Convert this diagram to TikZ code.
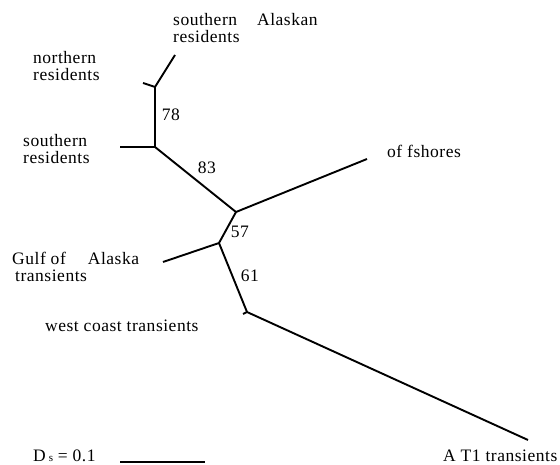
\documentclass[tikz,border=0pt]{standalone}
\usepackage{fontspec}
\setmainfont{Liberation Serif}[LetterSpace=3]
\begin{document}
\tikzset{
  branch/.style={line width=1.9pt, line cap=butt, line join=miter},
  lbl/.style={font=\fontsize{17.5}{17.5}\selectfont, inner sep=0pt, align=left, anchor=base west},
  boot/.style={font=\fontsize{17.5}{17.5}\selectfont, inner sep=0pt, anchor=center}
}
\begin{tikzpicture}[x=1pt,y=-1pt]
\useasboundingbox (0,0) rectangle (560,465);
% internal nodes and tips
\coordinate (A) at (155,87);
\coordinate (SA) at (175,55);
\coordinate (NR) at (143,83);
\coordinate (B) at (155,147);
\coordinate (SR) at (120,147);
\coordinate (C) at (236,212);
\coordinate (OF) at (367,159);
\coordinate (D) at (219,243);
\coordinate (GA) at (163,262);
\coordinate (E) at (247,312);
\coordinate (WC) at (243,314);
\coordinate (AT) at (528,440);
\coordinate (S1) at (120,462);
\coordinate (S2) at (205,462);
% branches
\draw[branch] (A) -- (SA);
\draw[branch] (A) -- (NR);
\draw[branch] (A) -- (B);
\draw[branch] (B) -- (SR);
\draw[branch] (B) -- (C);
\draw[branch] (C) -- (OF);
\draw[branch] (C) -- (D);
\draw[branch] (D) -- (GA);
\draw[branch] (D) -- (E);
\draw[branch] (E) -- (WC);
\draw[branch] (E) -- (AT);
\draw[branch] (S1) -- (S2);
% labels (anchor = baseline of last line)
\node[lbl] (lSA) at (173,43) {southern\hspace{20pt}Alaskan\\residents};
\node[lbl] (lNR) at (33,81) {northern\\residents};
\node[lbl] (lSR) at (23,164) {southern\\residents};
\node[lbl] (lOF) at (387,158) {of fshores};
\node[lbl] (lGA) at (12,282) {Gulf of\hspace{22pt}Alaska\\\hspace{3pt}transients};
\node[lbl] (lWC) at (45,331) {west coast transients};
\node[lbl] (lAT) at (443,461) {A T1 transients};
\node[lbl] (lDS) at (33,461) {D\,{\fontsize{11}{12}\selectfont s} = 0.1};
% bootstrap values
\node[boot] (b78) at (171,115) {78};
\node[boot] (b83) at (207,168) {83};
\node[boot] (b57) at (240,232) {57};
\node[boot] (b61) at (250,276) {61};
\end{tikzpicture}
\end{document}
